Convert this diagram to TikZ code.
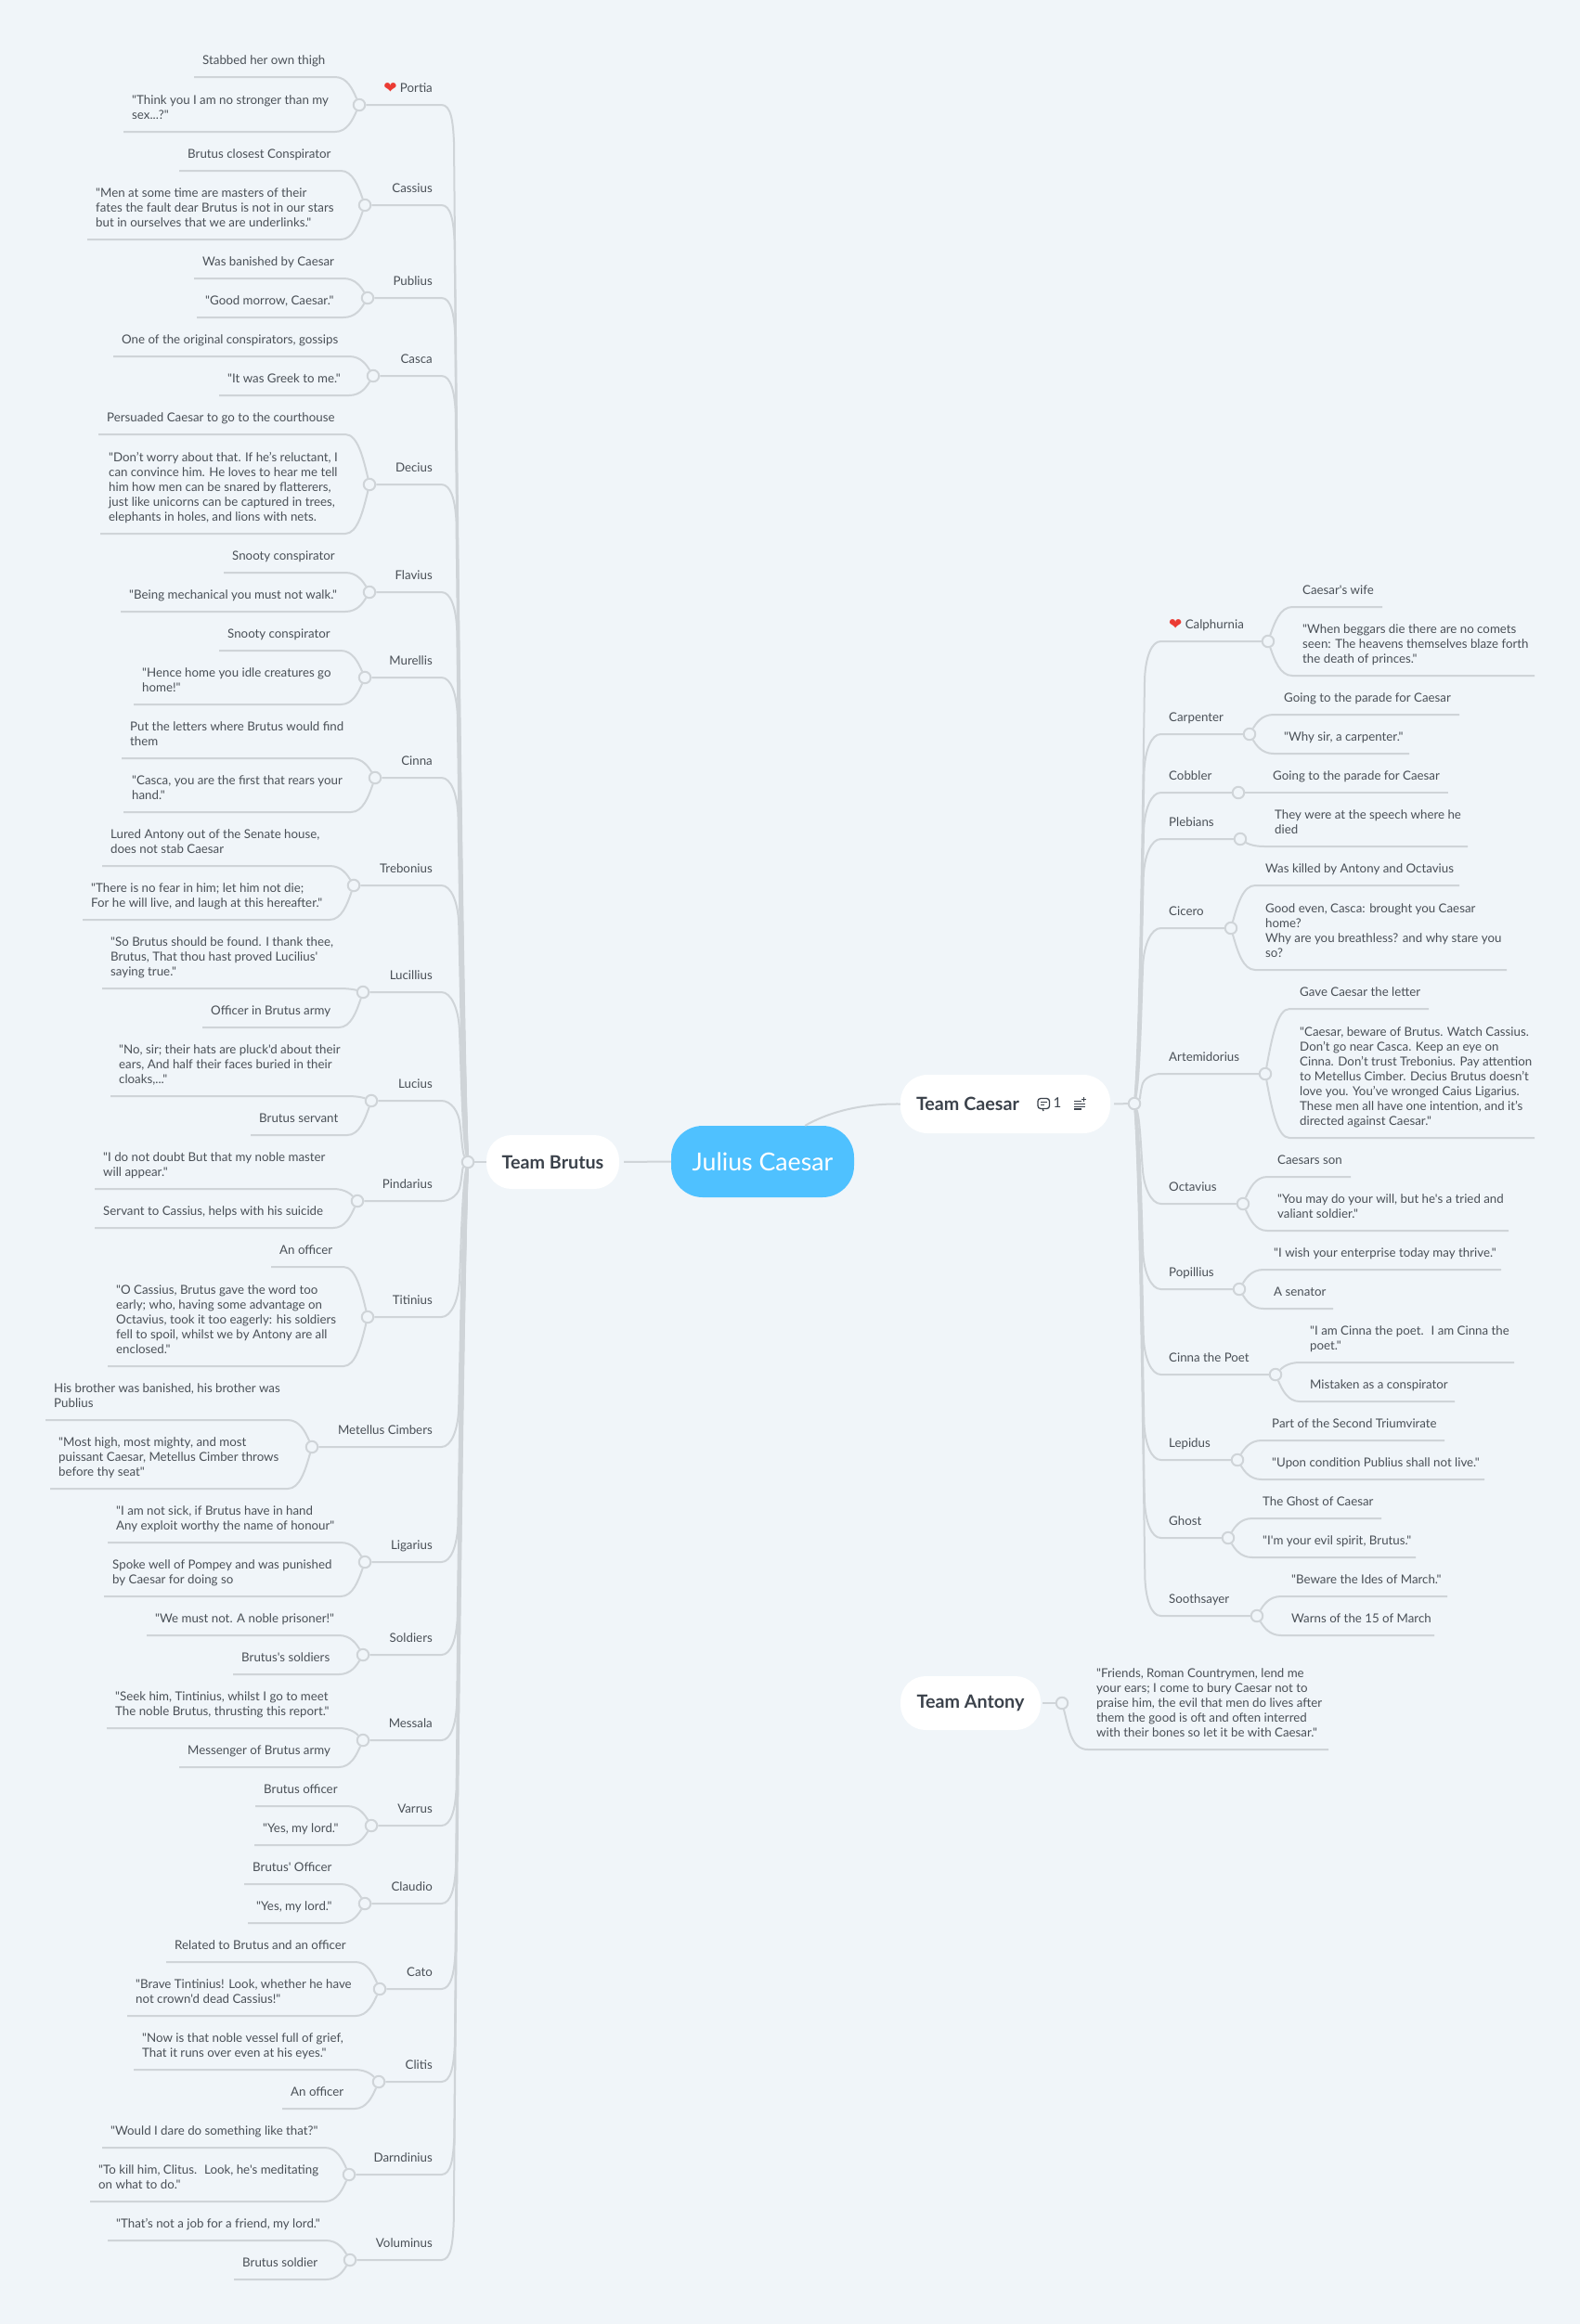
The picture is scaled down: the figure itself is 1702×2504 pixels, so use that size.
\documentclass[tikz,border=0pt]{standalone}
\usepackage{fontspec}
\usepackage{tikz}
\usetikzlibrary{calc}
\newfontfamily\mapfont{Lato}
\newfontfamily\heartfont{DejaVu Sans}
\definecolor{pagebg}{HTML}{F0F5F9}
\definecolor{linegray}{HTML}{CFD4D8}
\definecolor{inkgray}{HTML}{4A5057}
\definecolor{darkgray}{HTML}{3B424B}
\definecolor{rootblue}{HTML}{4FC1FF}
\definecolor{heartred}{HTML}{EB3B34}
\tikzset{
	link/.style={draw=linegray,line width=2pt},
	junction/.style={circle,draw=linegray,line width=2pt,fill=pagebg,minimum size=12.5pt,inner sep=0pt},
	leaftext/.style={font=\mapfont\fontsize{13.3}{16}\selectfont,text=inkgray,align=left,inner sep=0pt},
	topic/.style={font=\mapfont\fontsize{13.3}{16}\selectfont,text=inkgray,inner sep=0pt},
	pill/.style={fill=white,font=\mapfont\bfseries\fontsize{19.7}{22}\selectfont,text=darkgray,inner sep=0pt},
	iconline/.style={draw=darkgray,line width=1.3pt}
}
% spine from a topic junction to the hub of its team
\newcommand{\spine}[5]{% junction, hub, hub x, hub y, line y
	\pgfmathsetmacro{\dirx}{(#3<800)?-1:1}
	\pgfmathsetmacro{\sgn}{(#5<#4)?1:-1}
	\pgfmathsetmacro{\dy}{abs(#5-#4)}
	\pgfmathsetmacro{\hgt}{min(40,0.4*\dy)}
	\pgfmathsetmacro{\mdist}{8+7*\dy/1140}
	\draw[link] (#1) -- (#3+\dirx*28.5,#5)
		.. controls (#3+\dirx*18,#5) and (#3+\dirx*\mdist+\dirx,#5+\sgn*\hgt*0.45) .. (#3+\dirx*\mdist,#5+\sgn*\hgt)
		.. controls (#3+\dirx*\mdist*0.8,#5+\sgn*\hgt+\sgn*\dy*0.3-\sgn*\hgt*0.3) and (#3+\dirx*6,#4-\sgn*\dy*0.15) .. (#2);
}
% a topic on the left: name, label, junction x, line y
\newcommand{\topicL}[4]{
	\node[topic,anchor=base east] (#1) at (466,#4-14) {#2};
	\node[junction] (#1J) at (#3,#4) {};
	\spine{#1J}{hubB}{504}{1252}{#4}
	\def\curx{#3}\def\cury{#4}\def\curJ{#1J}
}
% a topic on the right
\newcommand{\topicR}[4]{
	\node[topic,anchor=base west] (#1) at (1259,#4-14) {#2};
	\node[junction] (#1J) at (#3,#4) {};
	\spine{#1J}{hubC}{1222}{1189}{#4}
	\def\curx{#3}\def\cury{#4}\def\curJ{#1J}
}
% a leaf on the left: name, free end x, line y, text
\newcommand{\leafL}[4]{
	\node[leaftext,anchor=base west] (#1) at (#2+9,#3-14) {#4};
	\coordinate (#1end) at (#2,#3);
	\draw[link] (\curJ) .. controls (\curx-7,\cury*0.45+#3*0.55) and (\curx-13,#3) .. (\curx-26,#3) -- (#1end);
}
% a leaf on the right
\newcommand{\leafR}[4]{
	\node[leaftext,anchor=base west] (#1) at (\curx+37,#3-14) {#4};
	\coordinate (#1end) at (#2,#3);
	\draw[link] (\curJ) .. controls (\curx+7,\cury*0.45+#3*0.55) and (\curx+13,#3) .. (\curx+26,#3) -- (#1end);
}
\newcommand{\heartmark}{\raisebox{-1pt}{\heartfont\fontsize{17}{16}\selectfont\textcolor{heartred}{❤}}}
\begin{document}
\begin{tikzpicture}[x=1pt,y=-1pt]
	\fill[pagebg] (0,0) rectangle (1702,2504);
	% central topic and teams
	\node[pill,fill=rootblue,text=white,font=\mapfont\fontsize{26.7}{30}\selectfont,minimum width=197pt,minimum height=77pt,rounded corners=34pt] (root) at (821.5,1251.5) {Julius Caesar};
	\node[pill,minimum width=143pt,minimum height=58pt,rounded corners=27pt] (brutus) at (595.5,1252) {Team Brutus};
	\node[pill,minimum width=226pt,minimum height=63pt,rounded corners=29pt] (caesar) at (1083,1189.5) {\makebox[192pt][l]{Team Caesar}};
	\node[pill,minimum width=151pt,minimum height=58pt,rounded corners=27pt] (antony) at (1045.5,1835) {Team Antony};
	\node[junction] (hubB) at (504,1252) {};
	\node[junction] (hubC) at (1222,1189) {};
	\node[junction] (hubA) at (1144,1835) {};
	\draw[link,shorten >=5pt] (root.west) -- (brutus.east);
	\draw[link] (brutus) -- (hubB);
	\draw[link] (root.north east) ++(-53,0) .. controls (895,1197) and (930,1189) .. (caesar.west);
	\draw[link,shorten <=4pt] (caesar.east) -- (hubC);
	\draw[link,shorten <=2pt] (antony.east) -- (hubA);
	% comment count and note icons
	\draw[iconline,rounded corners=3pt] (1118,1183.5) rectangle (1130.5,1194.5);
	\draw[iconline] (1123,1194.5) -- (1124,1197);
	\draw[iconline] (1121,1187.5) -- (1127.5,1187.5) (1121,1190.5) -- (1125,1190.5);
	\node[topic,text=darkgray,font=\mapfont\fontsize{15}{16}\selectfont] (count) at (1139,1188.5) {1};
	\draw[iconline] (1157,1186.5) -- (1165,1186.5) (1157,1189.5) -- (1169,1189.5) (1157,1192.5) -- (1169,1192.5) (1157,1195) -- (1165,1195);
	\draw[iconline,line width=1pt] (1167.5,1182) -- (1167.5,1187) (1165,1184.5) -- (1170,1184.5);

	% Team Brutus
	\topicL{portia}{\heartmark\ Portia}{387}{113}
	\leafL{portiaA}{209}{83}{Stabbed her own thigh}
	\leafL{portiaB}{133}{142}{"Think you I am no stronger than my\\sex...?"}
	\topicL{cassius}{Cassius}{393}{221}
	\leafL{cassiusA}{193}{184}{Brutus closest Conspirator}
	\leafL{cassiusB}{94}{258}{"Men at some time are masters of their\\fates the fault dear Brutus is not in our stars\\but in ourselves that we are underlinks."}
	\topicL{publius}{Publius}{396}{321}
	\leafL{publiusA}{209}{300}{Was banished by Caesar}
	\leafL{publiusB}{212}{342}{"Good morrow, Caesar."}
	\topicL{casca}{Casca}{402}{405}
	\leafL{cascaA}{122}{384}{One of the original conspirators, gossips}
	\leafL{cascaB}{236}{426}{"It was Greek to me."}
	\topicL{decius}{Decius}{398}{522}
	\leafL{deciusA}{106}{468}{Persuaded Caesar to go to the courthouse}
	\leafL{deciusB}{108}{575}{"Don’t worry about that. If he’s reluctant, I\\can convince him. He loves to hear me tell\\him how men can be snared by flatterers,\\just like unicorns can be captured in trees,\\elephants in holes, and lions with nets.}
	\topicL{flavius}{Flavius}{398}{638}
	\leafL{flaviusA}{241}{617}{Snooty conspirator}
	\leafL{flaviusB}{130}{659}{"Being mechanical you must not walk."}
	\topicL{murellis}{Murellis}{393}{730}
	\leafL{murellisA}{236}{701}{Snooty conspirator}
	\leafL{murellisB}{144}{759}{"Hence home you idle creatures go\\home!"}
	\topicL{cinna}{Cinna}{404}{838}
	\leafL{cinnaA}{131}{817}{Put the letters where Brutus would find\\them}
	\leafL{cinnaB}{133}{875}{"Casca, you are the first that rears your\\hand."}
	\topicL{trebonius}{Trebonius}{381}{954}
	\leafL{treboniusA}{110}{933}{Lured Antony out of the Senate house,\\does not stab Caesar}
	\leafL{treboniusB}{89}{991}{"There is no fear in him; let him not die;\\For he will live, and laugh at this hereafter."}
	\topicL{lucillius}{Lucillius}{391}{1069}
	\leafL{lucilliusA}{110}{1065}{"So Brutus should be found. I thank thee,\\Brutus, That thou hast proved Lucilius'\\saying true."}
	\leafL{lucilliusB}{218}{1107}{Officer in Brutus army}
	\topicL{lucius}{Lucius}{400}{1186}
	\leafL{luciusA}{119}{1181}{"No, sir; their hats are pluck'd about their\\ears, And half their faces buried in their\\cloaks,..."}
	\leafL{luciusB}{270}{1223}{Brutus servant}
	\topicL{pindarius}{Pindarius}{385}{1294}
	\leafL{pindariusA}{102}{1281}{"I do not doubt But that my noble master\\will appear."}
	\leafL{pindariusB}{102}{1323}{Servant to Cassius, helps with his suicide}
	\topicL{titinius}{Titinius}{396}{1419}
	\leafL{titiniusA}{292}{1365}{An officer}
	\leafL{titiniusB}{116}{1472}{"O Cassius, Brutus gave the word too\\early; who, having some advantage on\\Octavius, took it too eagerly: his soldiers\\fell to spoil, whilst we by Antony are all\\enclosed."}
	\topicL{metellus}{Metellus Cimbers}{336}{1559}
	\leafL{metellusA}{49}{1530}{His brother was banished, his brother was\\Publius}
	\leafL{metellusB}{54}{1604}{"Most high, most mighty, and most\\puissant Caesar, Metellus Cimber throws\\before thy seat"}
	\topicL{ligarius}{Ligarius}{393}{1683}
	\leafL{ligariusA}{116}{1662}{"I am not sick, if Brutus have in hand\\Any exploit worthy the name of honour"}
	\leafL{ligariusB}{112}{1720}{Spoke well of Pompey and was punished\\by Caesar for doing so}
	\topicL{soldiers}{Soldiers}{391}{1783}
	\leafL{soldiersA}{158}{1762}{"We must not. A noble prisoner!"}
	\leafL{soldiersB}{251}{1804}{Brutus's soldiers}
	\topicL{messala}{Messala}{391}{1875}
	\leafL{messalaA}{115}{1862}{"Seek him, Tintinius, whilst I go to meet\\The noble Brutus, thrusting this report."}
	\leafL{messalaB}{193}{1904}{Messenger of Brutus army}
	\topicL{varrus}{Varrus}{400}{1967}
	\leafL{varrusA}{275}{1946}{Brutus officer}
	\leafL{varrusB}{274}{1988}{"Yes, my lord."}
	\topicL{claudio}{Claudio}{393}{2051}
	\leafL{claudioA}{263}{2030}{Brutus' Officer}
	\leafL{claudioB}{267}{2072}{"Yes, my lord."}
	\topicL{cato}{Cato}{409}{2143}
	\leafL{catoA}{179}{2114}{Related to Brutus and an officer}
	\leafL{catoB}{137}{2172}{"Brave Tintinius! Look, whether he have\\not crown'd dead Cassius!"}
	\topicL{clitis}{Clitis}{408}{2243}
	\leafL{clitisA}{144}{2230}{"Now is that noble vessel full of grief,\\That it runs over even at his eyes."}
	\leafL{clitisB}{304}{2272}{An officer}
	\topicL{darndinius}{Darndinius}{376}{2343}
	\leafL{darndiniusA}{110}{2314}{"Would I dare do something like that?"}
	\leafL{darndiniusB}{97}{2372}{"To kill him, Clitus.~ Look, he's meditating\\on what to do."}
	\topicL{voluminus}{Voluminus}{377}{2435}
	\leafL{voluminusA}{116}{2414}{"That’s not a job for a friend, my lord."}
	\leafL{voluminusB}{252}{2456}{Brutus soldier}

	% Team Caesar
	\topicR{calphurnia}{\heartmark\ Calphurnia}{1366}{691}
	\leafR{calphurniaA}{1489}{654}{Caesar's wife}
	\leafR{calphurniaB}{1653}{728}{"When beggars die there are no comets\\seen: The heavens themselves blaze forth\\the death of princes."}
	\topicR{carpenter}{Carpenter}{1346}{791}
	\leafR{carpenterA}{1572}{770}{Going to the parade for Caesar}
	\leafR{carpenterB}{1518}{812}{"Why sir, a carpenter."}
	\topicR{cobbler}{Cobbler}{1334}{854}
	\leafR{cobblerA}{1560}{854}{Going to the parade for Caesar}
	\topicR{plebians}{Plebians}{1336}{904}
	\leafR{plebiansA}{1581}{912}{They were at the speech where he\\died}
	\topicR{cicero}{Cicero}{1326}{1000}
	\leafR{ciceroA}{1572}{954}{Was killed by Antony and Octavius}
	\leafR{ciceroB}{1623}{1045}{Good even, Casca: brought you Caesar\\home?\\Why are you breathless? and why stare you\\so?}
	\topicR{artemidorius}{Artemidorius}{1363}{1157}
	\leafR{artemidoriusA}{1539}{1087}{Gave Caesar the letter}
	\leafR{artemidoriusB}{1653}{1226}{"Caesar, beware of Brutus. Watch Cassius.\\Don’t go near Casca. Keep an eye on\\Cinna. Don’t trust Trebonius. Pay attention\\to Metellus Cimber. Decius Brutus doesn’t\\love you. You’ve wronged Caius Ligarius.\\These men all have one intention, and it’s\\directed against Caesar."}
	\topicR{octavius}{Octavius}{1339}{1297}
	\leafR{octaviusA}{1455}{1268}{Caesars son}
	\leafR{octaviusB}{1625}{1326}{"You may do your will, but he's a tried and\\valiant soldier."}
	\topicR{popillius}{Popillius}{1335}{1389}
	\leafR{popilliusA}{1617}{1368}{"I wish your enterprise today may thrive."}
	\leafR{popilliusB}{1436}{1410}{A senator}
	\topicR{cinnapoet}{Cinna the Poet}{1374}{1481}
	\leafR{cinnapoetA}{1631}{1468}{"I am Cinna the poet.~ I am Cinna the\\poet."}
	\leafR{cinnapoetB}{1567}{1510}{Mistaken as a conspirator}
	\topicR{lepidus}{Lepidus}{1333}{1573}
	\leafR{lepidusA}{1556}{1552}{Part of the Second Triumvirate}
	\leafR{lepidusB}{1599}{1594}{"Upon condition Publius shall not live."}
	\topicR{ghost}{Ghost}{1323}{1657}
	\leafR{ghostA}{1488}{1636}{The Ghost of Caesar}
	\leafR{ghostB}{1525}{1678}{"I'm your evil spirit, Brutus."}
	\topicR{soothsayer}{Soothsayer}{1354}{1741}
	\leafR{soothsayerA}{1559}{1720}{"Beware the Ides of March."}
	\leafR{soothsayerB}{1545}{1762}{Warns of the 15 of March}

	% Team Antony
	\node[leaftext,anchor=base west] (friends) at (1181,1871) {"Friends, Roman Countrymen, lend me\\your ears; I come to bury Caesar not to\\praise him, the evil that men do lives after\\them the good is oft and often interred\\with their bones so let it be with Caesar."};
	\coordinate (friendsend) at (1431,1885);
	\draw[link] (hubA) .. controls (1151,1860) and (1153,1885) .. (1172,1885) -- (friendsend);
\end{tikzpicture}
\end{document}
